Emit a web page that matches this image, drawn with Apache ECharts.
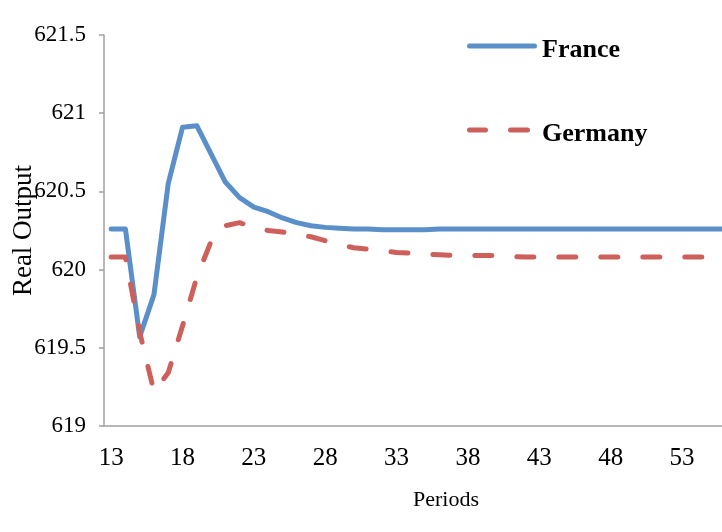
<!DOCTYPE html>
<html>
<head>
<meta charset="utf-8">
<title>Real Output</title>
<script src="https://cdn.jsdelivr.net/npm/echarts@6/dist/echarts.min.js"></script>
<style>
  html, body { margin: 0; padding: 0; background: #fff; }
  #chart { width: 722px; height: 532px; }
</style>
</head>
<body>
<div id="chart"></div>
<script>
// Simulation periods (horizontal categories)
const periods = [
  13, 14, 15, 16, 17, 18, 19, 20, 21, 22, 23, 24, 25, 26, 27, 28, 29, 30, 31, 32, 33, 34,
  35, 36, 37, 38, 39, 40, 41, 42, 43, 44, 45, 46, 47, 48, 49, 50, 51, 52, 53, 54, 55, 56
];

// Real output path after the shock, one value per period
const france = [
  620.26, 620.26, 619.57, 619.84, 620.55, 620.91, 620.92, 620.74, 620.56, 620.46,
  620.40, 620.37, 620.33, 620.30, 620.28, 620.27, 620.265, 620.26, 620.26, 620.255,
  620.255, 620.255, 620.255, 620.26, 620.26, 620.26, 620.26, 620.26, 620.26, 620.26,
  620.26, 620.26, 620.26, 620.26, 620.26, 620.26, 620.26, 620.26, 620.26, 620.26,
  620.26, 620.26, 620.26, 620.26
];
const germany = [
  620.08, 620.08, 619.60, 619.22, 619.34, 619.64, 619.95, 620.18, 620.28, 620.30,
  620.27, 620.25, 620.24, 620.225, 620.21, 620.185, 620.16, 620.14, 620.13, 620.12,
  620.11, 620.105, 620.10, 620.095, 620.09, 620.09, 620.09, 620.09, 620.085, 620.08,
  620.08, 620.08, 620.08, 620.08, 620.08, 620.08, 620.08, 620.08, 620.08, 620.08,
  620.08, 620.08, 620.08, 620.08
];
const seriesNames = ['France', 'Germany'];

const SERIF = "'Liberation Serif', 'Times New Roman', serif";
const BLUE = '#5a8fca';
const RED = '#cd605a';
const AXIS_GREY = '#a0a0a0';

// Legend keys: a solid rounded bar and two rounded dashes, both sitting a
// little above the middle of the key box so they line up with the text caps
const KEY_PAD = 'M70,13L70,13';
const ICON_SOLID = 'path://M2.5,0H67.5A2.5,2.5,0,0,1,67.5,5H2.5A2.5,2.5,0,0,1,2.5,0Z' + KEY_PAD;
const ICON_DASHED = 'path://M2.5,0H18.5A2.5,2.5,0,0,1,18.5,5H2.5A2.5,2.5,0,0,1,2.5,0Z' +
  'M43.5,0H60.5A2.5,2.5,0,0,1,60.5,5H43.5A2.5,2.5,0,0,1,43.5,0Z' + KEY_PAD;

const chart = echarts.init(document.getElementById('chart'), null, { renderer: 'canvas' });
chart.setOption({
  backgroundColor: '#ffffff',
  animation: false,
  grid: {
    left: 104, right: -10, top: 35, bottom: 106,
    containLabel: false,
    outerBoundsMode: 'none'
  },
  legend: {
    orient: 'vertical',
    left: 462,
    top: 32,
    itemWidth: 70,
    itemHeight: 13,
    itemGap: 58,
    symbolKeepAspect: false,
    textStyle: { fontFamily: SERIF, fontSize: 26, fontWeight: 'bold', color: '#000' },
    data: [
      { name: seriesNames[0], icon: ICON_SOLID, itemStyle: { color: BLUE } },
      { name: seriesNames[1], icon: ICON_DASHED, itemStyle: { color: RED } }
    ]
  },
  xAxis: {
    type: 'category',
    data: periods,
    boundaryGap: true,
    axisLine: { show: true, lineStyle: { color: AXIS_GREY, width: 1.5 } },
    axisTick: { show: false },
    splitLine: { show: false },
    axisLabel: {
      interval: 4,
      fontFamily: SERIF,
      fontSize: 25,
      color: '#000',
      margin: 20
    }
  },
  yAxis: {
    type: 'value',
    min: 619,
    max: 621.5,
    interval: 0.5,
    name: 'Real Output',
    nameLocation: 'middle',
    nameRotate: 90,
    nameGap: 67,
    nameMoveOverlap: false,
    nameTextStyle: { fontFamily: SERIF, fontSize: 27, color: '#000' },
    axisLine: { show: true, lineStyle: { color: AXIS_GREY, width: 1.5 } },
    axisTick: { show: true, inside: false, length: 5, lineStyle: { color: AXIS_GREY, width: 1.5 } },
    splitLine: { show: false },
    axisLabel: { fontFamily: SERIF, fontSize: 23, color: '#000', margin: 18 }
  },
  graphic: [
    {
      type: 'text',
      x: 446,
      y: 500,
      style: {
        text: 'Periods',
        font: '22px ' + SERIF,
        fill: '#000',
        align: 'center',
        verticalAlign: 'middle'
      }
    }
  ],
  series: [
    {
      name: seriesNames[0],
      type: 'line',
      data: france,
      symbol: 'none',
      color: BLUE,
      lineStyle: { color: BLUE, width: 5, cap: 'round', join: 'round' }
    },
    {
      name: seriesNames[1],
      type: 'line',
      data: germany,
      symbol: 'none',
      color: RED,
      lineStyle: { color: RED, width: 5, type: [17, 25], cap: 'round', join: 'round' }
    }
  ]
});
</script>
</body>
</html>
